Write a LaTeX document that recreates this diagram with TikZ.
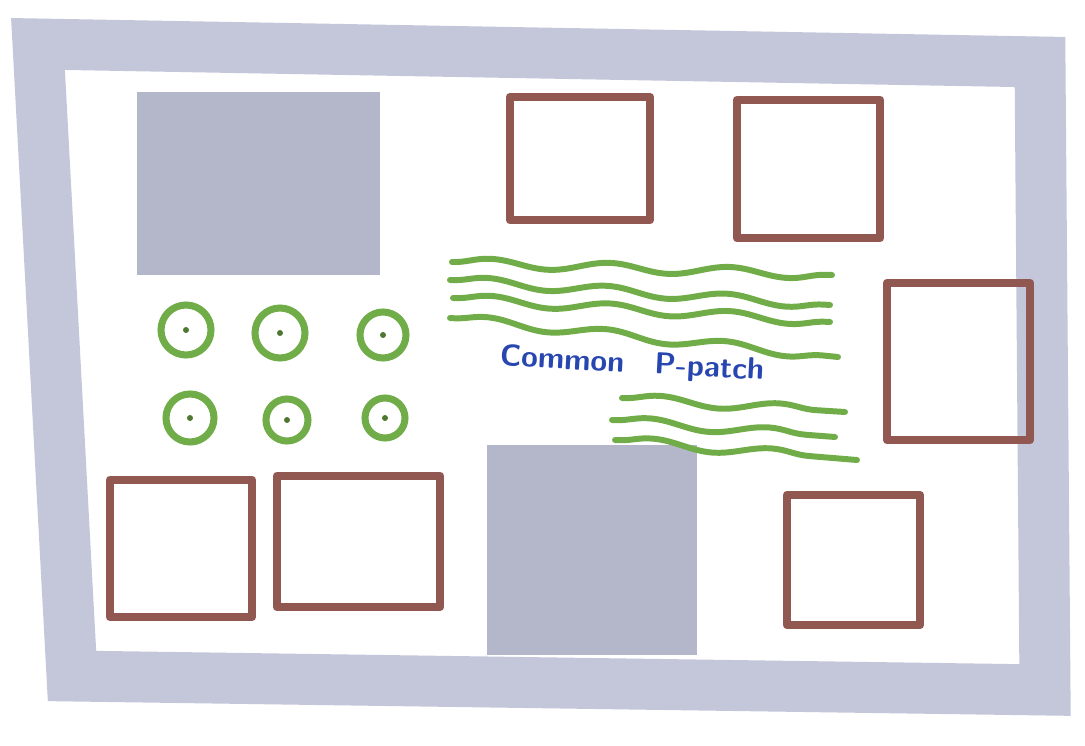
\documentclass[tikz,border=0pt]{standalone}
\usepackage{tikz}
\usetikzlibrary{decorations.pathmorphing}
\definecolor{markergray}{RGB}{196,198,218}
\definecolor{plotbrown}{RGB}{145,88,82}
\definecolor{plantgreen}{RGB}{112,172,72}
\definecolor{labelblue}{RGB}{40,70,175}

\begin{document}
\begin{tikzpicture}[
        x=0.02cm, y=-0.02cm,
        frame/.style={draw=markergray, line width=29pt, line join=miter},
        shed/.style={fill=markergray!92!black},
        plot/.style={draw=plotbrown, line width=5pt, line join=round},
        shrub/.style={draw=plantgreen, line width=4pt},
        seed/.style={fill=plantgreen!70!black},
        wave/.style={draw=plantgreen, line width=3.4pt, line cap=round, decorate,
            decoration={snake, segment length=2.4cm, amplitude=0.9mm}},
        label/.style={text=labelblue, font=\sffamily\bfseries\LARGE}
    ]
    \useasboundingbox (0,0) rectangle (1085,746);

    % outer fence
    \draw[frame] (38,44) -- (1040,62) -- (1045,690) -- (72,676) -- cycle;

    % grey areas
    \fill[shed] (137,92) rectangle (380,275);
    \fill[shed] (487,445) rectangle (697,655);

    % garden plots
    \draw[plot] (510,97) rectangle (650,220);
    \draw[plot] (737,100) rectangle (880,238);
    \draw[plot] (887,283) rectangle (1030,440);
    \draw[plot] (110,480) rectangle (252,617);
    \draw[plot] (277,476) rectangle (440,607);
    \draw[plot] (787,495) rectangle (920,625);

    % shrubs
    \foreach \cx/\cy/\r in {186/330/25, 280/333/25, 383/335/23,
                            190/418/24, 287/420/21, 385/418/20} {
        \draw[shrub] (\cx,\cy) circle[radius=\r];
        \fill[seed] (\cx,\cy) circle[radius=3];
    }

    % planting rows
    \draw[wave] (452,262) -- (832,275);
    \draw[wave] (450,280) -- (830,305);
    \draw[wave] (453,298) -- (830,322);
    \draw[wave] (450,318) -- (838,357);
    \draw[wave] (622,398) -- (845,412);
    \draw[wave] (612,420) -- (835,437);
    \draw[wave] (615,440) -- (857,460);

    \node[label, rotate=-3] (title) at (632,365) {Common\quad P-patch};
\end{tikzpicture}
\end{document}
